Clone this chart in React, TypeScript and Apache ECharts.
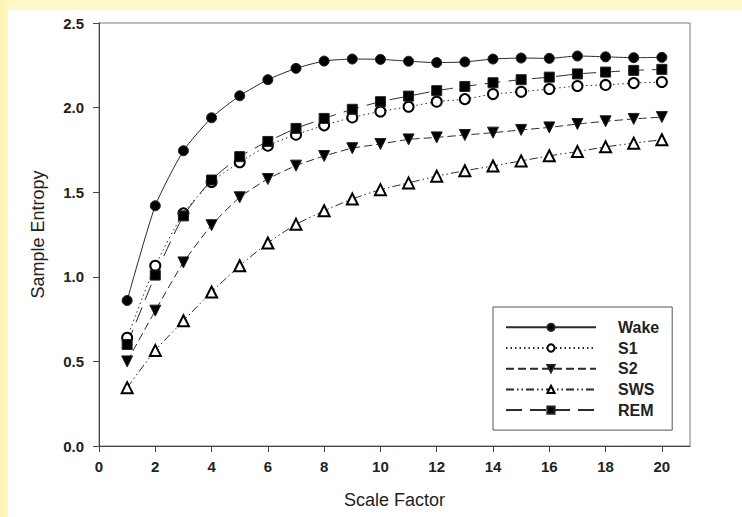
import React, { useEffect, useRef } from "react";
import * as echarts from "echarts";

const scaleFactors = [1, 2, 3, 4, 5, 6, 7, 8, 9, 10, 11, 12, 13, 14, 15, 16, 17, 18, 19, 20];
const wake = [0.86, 1.42, 1.745, 1.94, 2.07, 2.165, 2.232, 2.275, 2.287, 2.285, 2.274, 2.266, 2.27, 2.287, 2.293, 2.291, 2.305, 2.3, 2.295, 2.297];
const s1 = [0.64, 1.065, 1.375, 1.56, 1.677, 1.775, 1.84, 1.895, 1.942, 1.977, 2.005, 2.035, 2.05, 2.08, 2.094, 2.11, 2.128, 2.134, 2.145, 2.151];
const s2 = [0.5, 0.8, 1.085, 1.305, 1.47, 1.578, 1.657, 1.714, 1.76, 1.785, 1.812, 1.824, 1.838, 1.852, 1.868, 1.883, 1.903, 1.919, 1.933, 1.944];
const sws = [0.345, 0.565, 0.74, 0.91, 1.065, 1.2, 1.31, 1.39, 1.46, 1.515, 1.555, 1.595, 1.627, 1.655, 1.685, 1.715, 1.74, 1.768, 1.79, 1.81];
const rem = [0.6, 1.01, 1.36, 1.572, 1.71, 1.8, 1.877, 1.936, 1.99, 2.035, 2.068, 2.1, 2.125, 2.147, 2.165, 2.18, 2.199, 2.21, 2.22, 2.226];
const xTicks = [0, 2, 4, 6, 8, 10, 12, 14, 16, 18, 20];
const seriesNames = ["Wake", "S1", "S2", "SWS", "REM"];

const FONT = "'Liberation Sans', Arial, sans-serif";

export default function App() {
  const ref = useRef<HTMLDivElement>(null);
  useEffect(() => {
    if (!ref.current) return;
    const chart = echarts.init(ref.current, undefined, { renderer: "svg" });
    const pairs = (arr: number[]) => scaleFactors.map((x, i) => [x, arr[i]]);
    const lineColor = "#2a2a2a";
    const mk = (
      name: string,
      arr: number[],
      symbol: string,
      size: number,
      dash: any,
      rotate = 0
    ) => ({
      name,
      type: "line",
      data: pairs(arr),
      symbol,
      symbolSize: size,
      symbolRotate: rotate,
      smooth: 0.2,
      showSymbol: true,
      lineStyle: { color: lineColor, width: 1, type: dash },
      itemStyle: { color: "#000", borderColor: "#222", borderWidth: 1 },
      emphasis: { disabled: true },
    });
    chart.setOption({
      animation: false,
      backgroundColor: "#ffffff",
      textStyle: { fontFamily: FONT },
      grid: {
        left: 91,
        top: 13,
        right: 52,
        bottom: 71,
        show: true,
        borderColor: "#7a7a7a",
        borderWidth: 1,
        backgroundColor: "#ffffff",
      },
      legend: {
        orient: "vertical",
        left: 485,
        top: 297,
        padding: [12.3, 13, 12, 12],
        itemWidth: 90,
        itemHeight: 9,
        itemGap: 4.7,
        borderColor: "#555",
        borderWidth: 1,
        selectedMode: false,
        data: seriesNames,
        textStyle: {
          fontFamily: FONT,
          fontSize: 16,
          lineHeight: 16,
          fontWeight: "bold",
          color: "#222",
          padding: [0, 0, 0, 17],
        },
      },
      xAxis: {
        type: "value",
        min: 0,
        max: 21,
        interval: 2,
        name: "Scale Factor",
        nameLocation: "middle",
        nameGap: 45,
        nameTextStyle: { fontFamily: FONT, fontSize: 18, color: "#222" },
        axisLine: { show: true, onZero: false, lineStyle: { color: "#444", width: 1 } },
        axisTick: { show: true, length: 6, customValues: xTicks, lineStyle: { color: "#444" } },
        axisLabel: {
          customValues: xTicks,
          margin: 13,
          fontSize: 15,
          fontWeight: "bold",
          color: "#222",
          fontFamily: FONT,
        },
        splitLine: { show: false },
      },
      yAxis: {
        type: "value",
        min: 0,
        max: 2.5,
        interval: 0.5,
        name: "Sample Entropy",
        nameLocation: "middle",
        nameGap: 52,
        nameTextStyle: { fontFamily: FONT, fontSize: 18, color: "#222" },
        axisLine: { show: true, onZero: false, lineStyle: { color: "#444", width: 1 } },
        axisTick: { show: true, length: 6, lineStyle: { color: "#444" } },
        axisLabel: {
          margin: 15,
          fontSize: 15,
          fontWeight: "bold",
          color: "#222",
          fontFamily: FONT,
          formatter: (v: number) => v.toFixed(1),
        },
        splitLine: { show: false },
      },
      series: [
        mk("Wake", wake, "circle", 10, "solid"),
        mk("S1", s1, "emptyCircle", 10, [1.5, 3]),
        mk("S2", s2, "triangle", 11, [8, 4], 180),
        mk("SWS", sws, "emptyTriangle", 11, [8, 3, 1.5, 3, 1.5, 3]),
        mk("REM", rem, "rect", 10, [16, 8]),
      ],
    });
    return () => chart.dispose();
  }, []);
  return (
    <div
      style={{
        position: "fixed",
        left: 0,
        top: 0,
        width: 742,
        height: 517,
        background: "linear-gradient(90deg, #fdf0b0 0px, #fff9c8 10px)",
        overflow: "hidden",
      }}
    >
      <div
        style={{
          position: "absolute",
          left: 8,
          top: 10,
          width: 734,
          height: 507,
          background: "#ffffff",
        }}
      >
        <div ref={ref} style={{ width: 734, height: 507 }} />
      </div>
    </div>
  );
}
